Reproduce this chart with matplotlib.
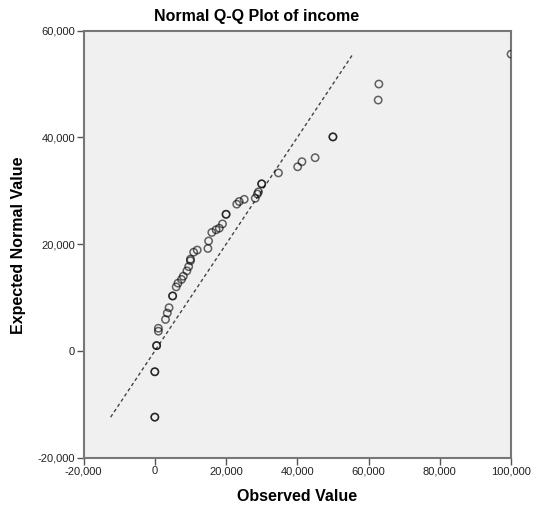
import numpy as np
import matplotlib.pyplot as plt
from matplotlib.ticker import FuncFormatter

# Data (observed income vs expected normal value)
observed = [0, 0, 0, 0, 500, 500, 1000, 1000, 3000, 3500, 4000, 5000, 5000,
            6000, 6500, 7500, 8000, 9000, 9500, 10000, 10000, 10900, 11900,
            14900, 15100, 16000, 17200, 18100, 19000, 20000, 20000, 23000,
            23700, 25100, 28200, 28800, 29100, 30000, 30000, 34700, 40100,
            41300, 45000, 50000, 50000, 62700, 62900, 100000]
expected = [-12400, -12400, -3900, -3900, 1000, 1000, 4250, 3700, 5900, 7100,
            8100, 10300, 10300, 12000, 12700, 13400, 14000, 15000, 15800,
            16900, 17200, 18500, 18900, 19200, 20600, 22200, 22700, 23000,
            23800, 25600, 25600, 27500, 28000, 28400, 28600, 29400, 29800,
            31300, 31300, 33350, 34500, 35450, 36200, 40100, 40100, 47000,
            50000, 55600]

line_lo = min(expected)
line_hi = max(expected)

plt.rcParams['font.family'] = ['Liberation Sans', 'DejaVu Sans']

fig = plt.figure(figsize=(5.34, 5.11), dpi=100)
ax = fig.add_axes([0.1565, 0.1043, 0.8005, 0.8357])
ax.set_facecolor('#f0f0f0')

# reference line
ax.plot([line_lo, line_hi], [line_lo, line_hi], color='#444444', lw=1.0,
        dashes=(2.5, 2))
ax.scatter(observed, expected, s=28, facecolors='none',
           edgecolors=(0, 0, 0, 0.6), linewidths=1.1, zorder=3)

ax.set_xlim(-20000, 100000)
ax.set_ylim(-20000, 60000)
ax.set_xticks(np.arange(-20000, 100001, 20000))
ax.set_yticks(np.arange(-20000, 60001, 20000))
fmt = FuncFormatter(lambda v, p: '{:,.0f}'.format(v))
ax.xaxis.set_major_formatter(fmt)
ax.yaxis.set_major_formatter(fmt)
ax.tick_params(length=5, width=1, color='#555555', labelsize=8,
               labelcolor='#222222', pad=1)
for s in ax.spines.values():
    s.set_color('#777777')
    s.set_linewidth(1.5)

fig.text(0.481, 0.967, 'Normal Q-Q Plot of income', ha='center', va='center',
         fontsize=11.5, fontweight='bold')
fig.text(0.557, 0.028, 'Observed Value', ha='center', va='center',
         fontsize=11.5, fontweight='bold')
fig.text(0.034, 0.52, 'Expected Normal Value', ha='center', va='center',
         rotation=90, fontsize=11.5, fontweight='bold')

fig.savefig('out.png', dpi=100)
